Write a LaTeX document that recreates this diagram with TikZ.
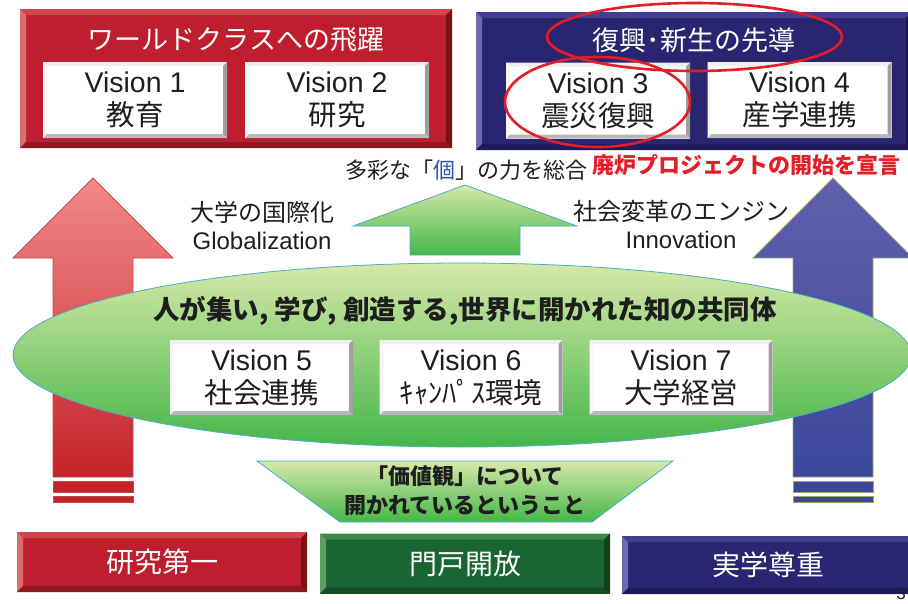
\documentclass[tikz,border=0pt]{standalone}
\usepackage{fontspec}
\setmainfont{Liberation Sans}
\newfontfamily\jp{Noto Sans CJK JP}
\usetikzlibrary{shapes.geometric}

\definecolor{redMain}{HTML}{BE1E2D}
\definecolor{redTop}{HTML}{CE4648}
\definecolor{redLeft}{HTML}{DA6E6E}
\definecolor{redRight}{HTML}{7A1216}
\definecolor{redBot}{HTML}{901820}
\definecolor{navyMain}{HTML}{2A2570}
\definecolor{navyTop}{HTML}{423E90}
\definecolor{navyLeft}{HTML}{6E6AB2}
\definecolor{navyRight}{HTML}{181450}
\definecolor{navyBot}{HTML}{1E1A5C}
\definecolor{grnMain}{HTML}{1A6633}
\definecolor{grnTop}{HTML}{3C8A4A}
\definecolor{grnLeft}{HTML}{5E9E64}
\definecolor{grnRight}{HTML}{0F4420}
\definecolor{grnBot}{HTML}{154C26}
\definecolor{wTop}{HTML}{F2EEEE}
\definecolor{wLeft}{HTML}{F8F8F8}
\definecolor{wRight}{HTML}{A0A0A0}
\definecolor{wBot}{HTML}{B8B8B8}
\definecolor{arrRedTop}{HTML}{F28A8A}
\definecolor{arrRedBot}{HTML}{C4222A}
\definecolor{arrRedLine}{HTML}{C84848}
\definecolor{arrBlueTop}{HTML}{5E60AA}
\definecolor{arrBlueBot}{HTML}{3C479C}
\definecolor{arrBlueLine}{HTML}{A0A868}
\definecolor{lgTop}{HTML}{D6E9A8}
\definecolor{lgMid}{HTML}{94CE7A}
\definecolor{lgBot}{HTML}{45B649}
\definecolor{lineBlue}{HTML}{4BACC6}
\definecolor{hlRed}{HTML}{E41E26}
\definecolor{txtDark}{HTML}{1E1E1E}
\definecolor{koBlue}{HTML}{2F52A8}

\tikzset{
  bevel/.style n args={6}{draw=none, fill=#1, path picture={
    \fill[#2] (path picture bounding box.north west) -- (path picture bounding box.north east)
      -- ([shift={(-#6,-#6)}]path picture bounding box.north east)
      -- ([shift={(#6,-#6)}]path picture bounding box.north west) -- cycle;
    \fill[#3] (path picture bounding box.north west) -- ([shift={(#6,-#6)}]path picture bounding box.north west)
      -- ([shift={(#6,#6)}]path picture bounding box.south west) -- (path picture bounding box.south west) -- cycle;
    \fill[#4] (path picture bounding box.north east) -- (path picture bounding box.south east)
      -- ([shift={(-#6,#6)}]path picture bounding box.south east)
      -- ([shift={(-#6,-#6)}]path picture bounding box.north east) -- cycle;
    \fill[#5] (path picture bounding box.south west) -- (path picture bounding box.south east)
      -- ([shift={(-#6,#6)}]path picture bounding box.south east)
      -- ([shift={(#6,#6)}]path picture bounding box.south west) -- cycle;
  }},
  redbox/.style={bevel={redMain}{redTop}{redLeft}{redRight}{redBot}{6pt}},
  navybox/.style={bevel={navyMain}{navyTop}{navyLeft}{navyRight}{navyBot}{6pt}},
  grnbox/.style={bevel={grnMain}{grnTop}{grnLeft}{grnRight}{grnBot}{6pt}},
  visbox/.style={bevel={white}{wTop}{wLeft}{wRight}{wBot}{4pt},
    minimum width=184pt, minimum height=76pt, inner sep=0pt, align=center,
    text=txtDark, font=\fontsize{28.5}{33}\selectfont},
  whitetitle/.style={text=white, font=\jp\fontsize{27}{30}\selectfont},
  basetext/.style={text=txtDark, font=\jp\fontsize{22}{26}\selectfont},
  sidetext/.style={text=txtDark, align=center, font=\fontsize{24}{28}\selectfont},
  boldtext/.style={text=txtDark, align=center, font=\jp\bfseries\fontsize{22}{29}\selectfont},
  hl/.style={draw=hlRed, line width=2.6pt},
}

\begin{document}
\begin{tikzpicture}[x=1pt,y=-1pt]
\useasboundingbox (0,0) rectangle (908,603);

% ---- large side arrows ----
\shade[top color=arrRedTop, bottom color=arrRedBot, draw=arrRedLine, line width=0.8pt]
  (93,178) -- (173,258) -- (133,258) -- (133,477) -- (53,477) -- (53,258) -- (13,258) -- cycle;
\fill[arrRedBot, draw=arrRedLine, line width=0.6pt] (53,481) rectangle (133,492);
\fill[arrRedBot, draw=arrRedLine, line width=0.6pt] (53,496) rectangle (133,502);

\shade[top color=arrBlueTop, bottom color=arrBlueBot, draw=arrBlueLine, line width=0.8pt]
  (833,178) -- (913,258) -- (873,258) -- (873,477) -- (793,477) -- (793,258) -- (753,258) -- cycle;
\fill[arrBlueBot, draw=arrBlueLine, line width=0.6pt] (793,481) rectangle (873,492);
\fill[arrBlueBot, draw=arrBlueLine, line width=0.6pt] (793,496) rectangle (873,502);

% ---- middle green arrow ----
\shade[top color=lgTop, bottom color=lgBot, draw=lineBlue, line width=0.8pt]
  (465,185) -- (577,226) -- (520,226) -- (520,255) -- (410,255) -- (410,226) -- (353,226) -- cycle;

% ---- big ellipse ----
\shade[top color=lgTop, middle color=lgMid, bottom color=lgBot, draw=lineBlue, line width=0.8pt]
  (462,355) ellipse [x radius=449, y radius=92];

% ---- trapezoid ----
\shade[top color=lgTop, bottom color=lgBot, draw=lineBlue, line width=0.8pt]
  (257,461) -- (673,461) -- (592,522) -- (340,522) -- cycle;

% ---- top boxes ----
\node[redbox, minimum width=432pt, minimum height=139pt] (wcbox) at (236,78.5) {};
\node[whitetitle] (wctitle) at (236,40) {ワールドクラスへの飛躍};
\node[visbox] (v1) at (135,100) {Vision 1\\\jp 教育};
\node[visbox] (v2) at (337,100) {Vision 2\\\jp 研究};

\node[navybox, minimum width=436pt, minimum height=138pt] (rnbox) at (694,81) {};
\node[whitetitle] (rntitle) at (694,40) {復興･新生の先導};
\node[visbox] (v3) at (598,100.5) {Vision 3\\\jp 震災復興};
\node[visbox] (v4) at (799.5,100) {Vision 4\\\jp 産学連携};

% ---- middle texts ----
\node[basetext] (tasai) at (466,170) {多彩な「{\color{koBlue}個}」の力を総合};
\node[text=hlRed, anchor=west, inner sep=0pt, font=\jp\bfseries\fontsize{22}{26}\selectfont] (hairo) at (592,165) {廃炉プロジェクトの開始を宣言};
\node[sidetext] (glob) at (262,225) {{\jp 大学の国際化}\\Globalization};
\node[sidetext] (innov) at (681,225) {{\jp 社会変革のエンジン}\\Innovation};

\node[text=txtDark, font=\jp\bfseries\fontsize{26.5}{30}\selectfont] (motto) at (465,311)
  {人が集い, 学び, 創造する,世界に開かれた知の共同体};

\node[visbox, minimum width=183pt, minimum height=75pt] (v5) at (261.5,377.5) {Vision 5\\\jp 社会連携};
\node[visbox, minimum width=183pt, minimum height=75pt] (v6) at (471,377.5) {Vision 6\\\jp ｷｬﾝﾊﾟｽ環境};
\node[visbox, minimum width=183pt, minimum height=75pt] (v7) at (681,377.5) {Vision 7\\\jp 大学経営};

\node[boldtext] (kachi) at (465,491) {「価値観」について\\開かれているということ};

% ---- bottom boxes ----
\node[redbox, minimum width=290pt, minimum height=60pt, text=white, font=\jp\fontsize{28}{30}\selectfont] (b1) at (162,562) {研究第一};
\node[grnbox, minimum width=290pt, minimum height=60pt, text=white, font=\jp\fontsize{28}{30}\selectfont] (b2) at (465,563.5) {門戸開放};
\node[navybox, minimum width=292pt, minimum height=58pt, text=white, font=\jp\fontsize{28}{30}\selectfont] (b3) at (768,565) {実学尊重};

\node[text=txtDark, inner sep=0pt, font=\fontsize{17}{17}\selectfont] (pg) at (901,594) {3};

% ---- red highlight ellipses ----
\draw[hl] (694.5,37) ellipse [x radius=147.5, y radius=34];
\draw[hl] (597.5,102) ellipse [x radius=92.5, y radius=45];
\end{tikzpicture}
\end{document}
